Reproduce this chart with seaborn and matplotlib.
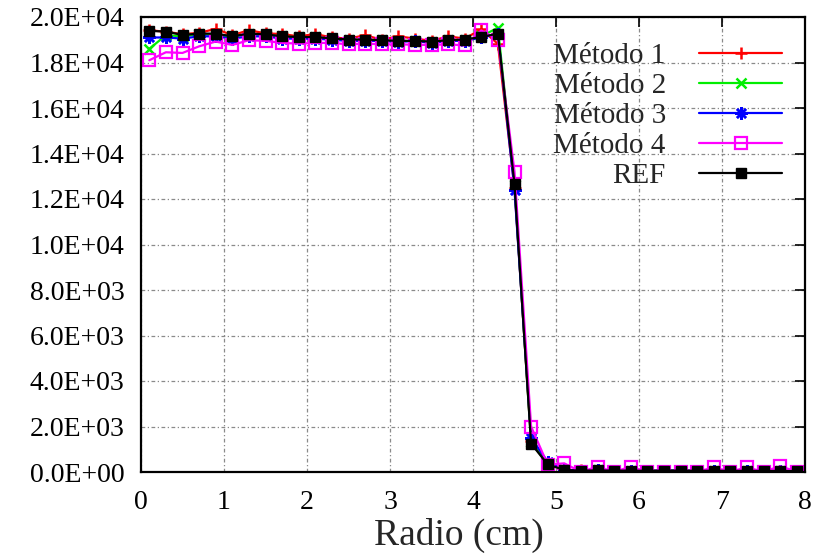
import numpy as np
import pandas as pd
import matplotlib
matplotlib.use("Agg")
import matplotlib.pyplot as plt
from matplotlib.ticker import FuncFormatter, MultipleLocator
import seaborn as sns

# Radial positions (cm)
radio = [0.1, 0.3, 0.5, 0.7, 0.9, 1.1, 1.3, 1.5, 1.7, 1.9,
         2.1, 2.3, 2.5, 2.7, 2.9, 3.1, 3.3, 3.5, 3.7, 3.9,
         4.1, 4.3, 4.5, 4.7, 4.9, 5.1, 5.3, 5.5, 5.7, 5.9,
         6.1, 6.3, 6.5, 6.7, 6.9, 7.1, 7.3, 7.5, 7.7, 7.9]

metodo1 = [19420, 19350, 19250, 19300, 19480, 19200, 19420, 19280, 19250, 19150,
           19250, 19100, 19050, 19200, 19000, 19150, 19050, 18950, 19150, 19050,
           19460, 18820, 12500, 1350, 350, 100, 70, 70, 60, 60,
           55, 60, 60, 55, 55, 50, 50, 45, 50, 40]

metodo2 = [18600, 19200, 19150, 19250, 19200, 19150, 19250, 19200, 19150, 19100,
           19100, 19050, 19000, 19000, 18970, 18950, 18950, 18920, 18970, 19000,
           19150, 19530, 12600, 1300, 350, 90, 60, 70, 60, 60,
           50, 60, 60, 50, 55, 50, 50, 45, 45, 40]

metodo3 = [19100, 19100, 19050, 19150, 19150, 19050, 19150, 19150, 19050, 19050,
           19050, 19000, 18950, 18950, 18950, 18900, 18950, 18850, 18950, 18950,
           19100, 19250, 12400, 1500, 450, 100, 60, 70, 60, 60,
           50, 60, 60, 50, 55, 50, 50, 45, 45, 40]

metodo4 = [18100, 18450, 18420, 18710, 18920, 18770, 18980, 18950, 18860, 18830,
           18860, 18860, 18800, 18830, 18800, 18800, 18780, 18770, 18800, 18750,
           19410, 19000, 13200, 2000, 320, 380, 10, 230, 10, 230,
           10, 20, 20, 15, 200, 20, 200, 15, 250, 20]

ref = [19390, 19360, 19210, 19270, 19270, 19150, 19270, 19240, 19150, 19120,
       19120, 19060, 19010, 19010, 18980, 18950, 18950, 18920, 18980, 19010,
       19120, 19270, 12650, 1250, 330, 90, 60, 70, 60, 60,
       50, 60, 60, 50, 55, 50, 50, 45, 45, 40]

series = [
    ("Método 1", metodo1, "#ff0000", dict(marker="+", markersize=9, markeredgewidth=1.8)),
    ("Método 2", metodo2, "#00ee00", dict(marker="x", markersize=7, markeredgewidth=1.8)),
    ("Método 3", metodo3, "#0000ff", dict(marker=(8, 2, 0), markersize=9, markeredgewidth=1.8)),
    ("Método 4", metodo4, "#ff00ff", dict(marker="s", markersize=8, markeredgewidth=1.6,
                                          markerfacecolor="none")),
    ("REF", ref, "#000000", dict(marker="s", markersize=7, markeredgewidth=1.0)),
]

sns.set_style("white")
plt.rcParams["font.family"] = ["Liberation Serif", "DejaVu Serif"]

fig = plt.figure(figsize=(8.23, 5.55), dpi=100)
ax = fig.add_axes([141 / 823, 1 - 472 / 555, (805 - 141) / 823, (472 - 17) / 555])

for name, values, color, style in series:
    df = pd.DataFrame({"Radio": radio, "Valor": values})
    sns.lineplot(data=df, x="Radio", y="Valor", ax=ax, label=name,
                 color=color, markeredgecolor=color, linewidth=1.6,
                 linestyle="-", **style)

ax.set_xlim(0, 8)
ax.set_ylim(0, 20000)
ax.xaxis.set_major_locator(MultipleLocator(1))
ax.yaxis.set_major_locator(MultipleLocator(2000))
ax.yaxis.set_major_formatter(FuncFormatter(lambda v, p: f"{v:.1E}"))

ax.grid(True, color="#8a8a8a", linestyle=(0, (3, 2, 1, 2)), linewidth=0.9)
for s in ax.spines.values():
    s.set_linewidth(1.6)
    s.set_color("black")

ax.tick_params(axis="both", direction="in", top=True, right=True,
               length=7, width=1.2, colors="black", labelsize=20)
ax.tick_params(axis="y", pad=12)
ax.tick_params(axis="x", pad=13)

ax.set_xlabel("Radio (cm)", fontsize=27)
ax.xaxis.set_label_coords(0.479, -0.1)
ax.set_ylabel("")

leg = ax.legend(loc="upper right", bbox_to_anchor=(0.966, 0.943), frameon=False,
                markerfirst=False, fontsize=21, handlelength=2.85, handletextpad=1.15,
                labelspacing=0.12, borderaxespad=0, borderpad=0)

fig.savefig("out.png", dpi=100)
